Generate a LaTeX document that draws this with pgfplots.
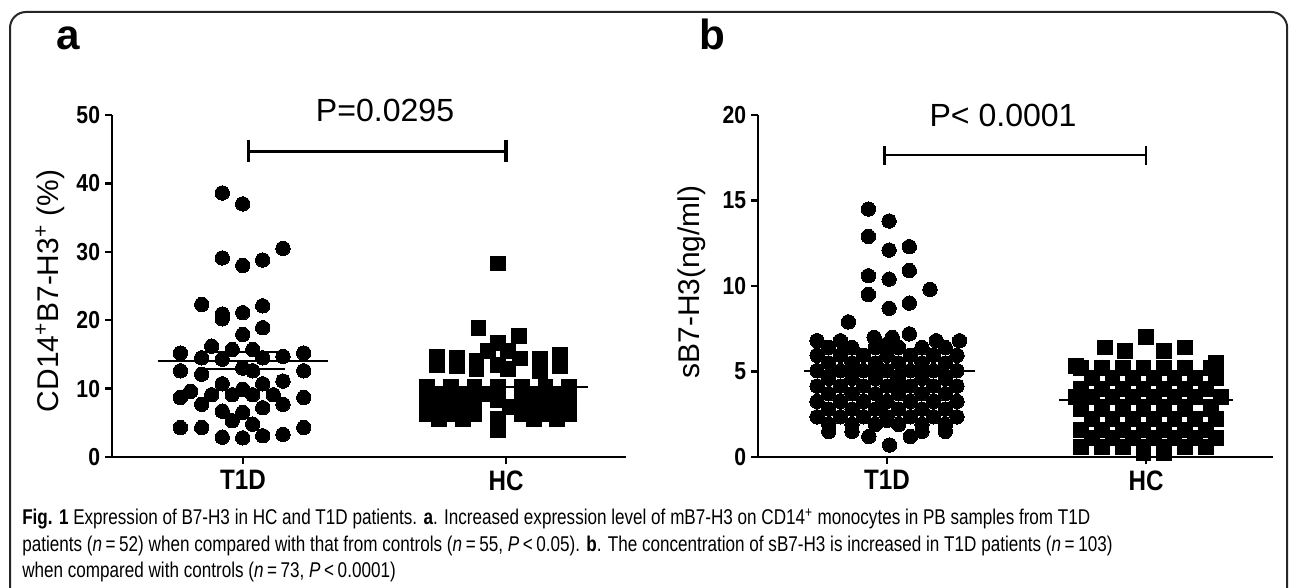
\documentclass[border=0pt]{standalone}
\usepackage{fontspec}
\setmainfont{Liberation Sans}
\newfontfamily\condfont[FakeStretch=0.86]{Liberation Sans}
\newfontfamily\capfont[FakeStretch=0.8]{Liberation Sans}
\usepackage{pgfplots}
\pgfplotsset{compat=1.18}
% 1 px of the reference = 0.25 mm
\pgfplotsset{
  dotplot/.style={
    scale only axis, anchor=south west, clip=false,
    axis x line=bottom, axis y line=left,
    x axis line style={-}, y axis line style={-},
    axis line style={line width=0.7mm, black},
    tick style={line width=0.6mm, black}, major tick length=1.75mm, tick align=outside,
    xtick={1,2}, xticklabels={T1D,HC},
    /pgf/number format/assume math mode=true,
    yticklabel style={font=\fontsize{17.5}{19}\selectfont\condfont\bfseries},
    xticklabel style={font=\fontsize{20}{22}\selectfont\condfont\bfseries, yshift=-0.4mm},
  },
  dots/.style={only marks, mark=*, mark size=1.8mm, mark options={fill=black, draw=black, line width=0pt}},
  boxes/.style={only marks, mark=square*, mark size=1.85mm, mark options={fill=black, draw=black, line width=0pt}},
}
\begin{document}
\begin{tikzpicture}
\useasboundingbox (0,0) rectangle (322.5mm,-147mm);
\draw[line width=0.5mm, black!85, rounded corners=4mm] (2.5mm,-180mm) -- (2.5mm,-3mm) -- (321.8mm,-3mm) -- (321.8mm,-180mm);

\node[font=\fontsize{30}{32}\selectfont\bfseries, anchor=base] at (17mm,-12.5mm) {a};
\node[font=\fontsize{30}{32}\selectfont\bfseries, anchor=base] at (178mm,-12.5mm) {b};

% panel a
\begin{axis}[dotplot, at={(28mm,-114.25mm)}, width=128.5mm, height=85.5mm,
  xmin=0.502, xmax=2.456, ymin=0, ymax=50, ytick={0,10,...,50}]
\addplot[dots] coordinates {
 (0.921,38.6) (0.999,37.0) (1.152,30.5) (0.921,29.1) (1.075,28.8) (0.999,28.0)
 (0.843,22.3) (1.075,22.1) (0.999,21.1) (0.921,20.9) (0.921,20.2) (1.075,18.9)
 (0.999,17.9) (0.881,16.2) (0.959,15.7) (1.037,15.7) (0.762,15.2) (1.231,15.2)
 (1.152,14.7) (0.843,14.5) (1.075,14.5) (0.921,14.3) (0.999,13.0) (0.762,12.6)
 (1.231,12.6) (1.037,12.6) (0.843,12.1) (1.152,11.1) (0.921,10.7) (1.075,10.7)
 (0.999,9.9) (0.801,9.6) (0.881,9.1) (1.115,9.1) (0.959,9.1) (1.037,9.1)
 (0.762,8.7) (1.231,8.7) (0.843,7.7) (1.152,7.7) (1.075,7.2) (0.921,6.7)
 (0.999,6.5) (0.959,5.3) (1.037,4.8) (0.762,4.3) (0.843,4.3) (1.231,4.3)
 (1.152,3.3) (1.075,3.1) (0.921,2.9) (0.999,2.8)};
\addplot[boxes] coordinates {
 (1.97,28.3) (1.895,18.9) (2.049,17.7) (1.97,16.7) (1.93,15.5) (2.008,15.5)
 (1.736,14.7) (1.736,13.4) (1.812,14.5) (1.812,13.3) (1.888,14.0) (1.888,12.8)
 (1.97,13.5) (2.053,14.4) (2.129,14.4) (2.129,12.6) (2.205,15.0) (2.205,13.3) (2.008,12.9)
 (1.70,10.2) (1.79,10.2) (1.88,10.2) (1.97,10.2) (2.06,10.2) (2.15,10.2) (2.24,10.2)
 (1.745,9.2) (1.835,9.2) (1.925,9.2) (2.105,9.2) (2.195,9.2)
 (1.70,8.3) (1.79,8.3) (1.88,8.3) (1.97,8.3) (2.06,8.3) (2.15,8.3) (2.24,8.3)
 (1.745,7.3) (1.835,7.3) (2.015,7.3) (2.105,7.3) (2.195,7.3)
 (1.70,6.3) (1.79,6.3) (1.88,6.3) (2.06,6.3) (2.15,6.3) (2.24,6.3)
 (1.745,5.5) (1.835,5.5) (1.97,5.5) (2.105,5.5) (2.195,5.5)
 (1.97,3.9)};
\addplot[line width=0.5mm] coordinates {(0.675,14.1) (1.325,14.1)};
\addplot[line width=0.5mm] coordinates {(0.84,15.4) (1.16,15.4)};
\addplot[line width=0.5mm] coordinates {(0.84,12.8) (1.16,12.8)};
\addplot[line width=0.5mm] coordinates {(1.69,10.2) (2.31,10.2)};
\addplot[line width=0.85mm] coordinates {(1.02,44.7) (2.0,44.7)};
\addplot[line width=0.85mm] coordinates {(1.02,46.4) (1.02,43.1)};
\addplot[line width=0.85mm] coordinates {(2.0,46.4) (2.0,43.1)};
\node[font=\fontsize{22.8}{24}\selectfont] at (axis cs:1.54,50.7) {P=0.0295};
\end{axis}
\node[rotate=90, font=\fontsize{21.3}{24}\selectfont] at (12.5mm,-72.75mm) {CD14\textsuperscript{+}B7-H3\textsuperscript{+} (\%)};

% panel b
\begin{axis}[dotplot, at={(189.5mm,-114.25mm)}, width=128.75mm, height=85.5mm,
  xmin=0.502, xmax=2.490, ymin=0, ymax=20, ytick={0,5,...,20}]
\addplot[dots] coordinates {
 (0.928,14.5) (1.008,13.8) (0.928,12.9) (1.008,12.1) (1.086,12.3) (1.086,10.9)
 (0.928,10.6) (1.008,10.4) (1.166,9.8) (0.928,9.5) (1.086,9.0) (1.008,8.7)
 (0.851,7.9) (1.086,7.2)
 (0.73,6.8) (0.82,6.8) (0.95,7.0) (1.02,7.0) (1.19,6.8) (1.28,6.8)
 (1.00,6.6)
 (0.775,6.4) (0.865,6.4) (0.955,6.4) (1.045,6.4) (1.135,6.4) (1.225,6.4)
 (0.73,5.95) (0.82,5.95) (0.91,5.95) (1.00,5.95) (1.09,5.95) (1.18,5.95) (1.27,5.95)
 (0.775,5.5) (0.865,5.5) (0.955,5.5) (1.045,5.5) (1.135,5.5) (1.225,5.5)
 (0.96,5.3)
 (0.73,5.05) (0.82,5.05) (0.91,5.05) (1.00,5.05) (1.09,5.05) (1.18,5.05) (1.27,5.05)
 (0.775,4.6) (0.865,4.6) (0.955,4.6) (1.045,4.6) (1.135,4.6) (1.225,4.6)
 (1.04,4.4)
 (0.73,4.15) (0.82,4.15) (0.91,4.15) (1.00,4.15) (1.09,4.15) (1.18,4.15) (1.27,4.15)
 (0.775,3.7) (0.865,3.7) (0.955,3.7) (1.045,3.7) (1.135,3.7) (1.225,3.7)
 (0.73,3.25) (0.82,3.25) (0.91,3.25) (1.00,3.25) (1.09,3.25) (1.18,3.25) (1.27,3.25)
 (0.98,3.05)
 (0.775,2.8) (0.865,2.8) (0.955,2.8) (1.045,2.8) (1.135,2.8) (1.225,2.8)
 (0.73,2.35) (0.82,2.35) (0.91,2.35) (1.00,2.35) (1.09,2.35) (1.18,2.35) (1.27,2.35)
 (1.00,2.15)
 (0.775,1.9) (0.865,1.9) (0.955,1.9) (1.045,1.9) (1.135,1.9) (1.225,1.9)
 (0.775,1.5) (0.865,1.5) (1.135,1.5) (1.225,1.5)
 (0.93,1.2) (1.09,1.2) (1.01,0.7)};
\addplot[boxes] coordinates {
 (2.0,7.0) (1.84,6.4) (1.92,6.2) (2.07,6.2) (2.15,6.4) (1.73,5.3) (2.27,5.5)
 (1.75,5.2) (1.83,5.2) (1.91,5.2) (1.99,5.2) (2.07,5.2) (2.15,5.2) (2.25,5.2)
 (1.79,4.6) (1.87,4.6) (1.95,4.6) (2.03,4.6) (2.11,4.6) (2.19,4.6) (2.27,4.6)
 (1.75,4.0) (1.83,4.0) (1.91,4.0) (1.99,4.0) (2.07,4.0) (2.15,4.0) (2.23,4.0)
 (1.73,3.5) (1.79,3.5) (1.87,3.5) (1.95,3.5) (2.03,3.5) (2.11,3.5) (2.19,3.5) (2.29,3.5)
 (1.75,2.8) (1.83,2.8) (1.91,2.8) (1.99,2.8) (2.07,2.8) (2.15,2.8) (2.25,2.8)
 (1.79,2.2) (1.87,2.2) (1.95,2.2) (2.03,2.2) (2.11,2.2) (2.19,2.2) (2.27,2.2)
 (1.75,1.6) (1.83,1.6) (1.91,1.6) (1.99,1.6) (2.07,1.6) (2.15,1.6) (2.23,1.6)
 (1.79,1.1) (1.87,1.1) (1.95,1.1) (2.03,1.1) (2.11,1.1) (2.19,1.1) (2.27,1.1)
 (1.75,0.6) (1.83,0.6) (1.91,0.6) (1.99,0.6) (2.07,0.6) (2.15,0.6) (2.23,0.6)
 (1.99,0.2) (2.07,0.2)};
\addplot[line width=0.5mm] coordinates {(0.68,5.05) (1.34,5.05)};
\addplot[line width=0.5mm] coordinates {(1.665,3.35) (2.335,3.35)};
\addplot[line width=0.65mm] coordinates {(0.99,17.65) (2.0,17.65)};
\addplot[line width=0.65mm] coordinates {(0.99,18.2) (0.99,17.05)};
\addplot[line width=0.65mm] coordinates {(2.0,18.2) (2.0,17.05)};
\node[font=\fontsize{22.8}{24}\selectfont] at (axis cs:1.448,20.0) {P< 0.0001};
\end{axis}
\node[rotate=90, font=\fontsize{21.3}{24}\selectfont] at (173mm,-70.5mm) {sB7-H3(ng/ml)};

% caption
\begin{scope}[every node/.style={anchor=base west, inner sep=0pt, font=\fontsize{15.2}{18}\selectfont\capfont}]
\node at (5.5mm,-131.2mm) {{\bfseries Fig. 1} Expression of B7-H3 in HC and T1D patients. {\bfseries a}. Increased expression level of mB7-H3 on CD14\textsuperscript{+} monocytes in PB samples from T1D};
\node at (5.5mm,-137.8mm) {patients (\textit{n}\,=\,52) when compared with that from controls (\textit{n}\,=\,55, \textit{P}\,<\,0.05). {\bfseries b}. The concentration of sB7-H3 is increased in T1D patients (\textit{n}\,=\,103)};
\node at (5.5mm,-144.3mm) {when compared with controls (\textit{n}\,=\,73, \textit{P}\,<\,0.0001)};
\end{scope}
\end{tikzpicture}
\end{document}
